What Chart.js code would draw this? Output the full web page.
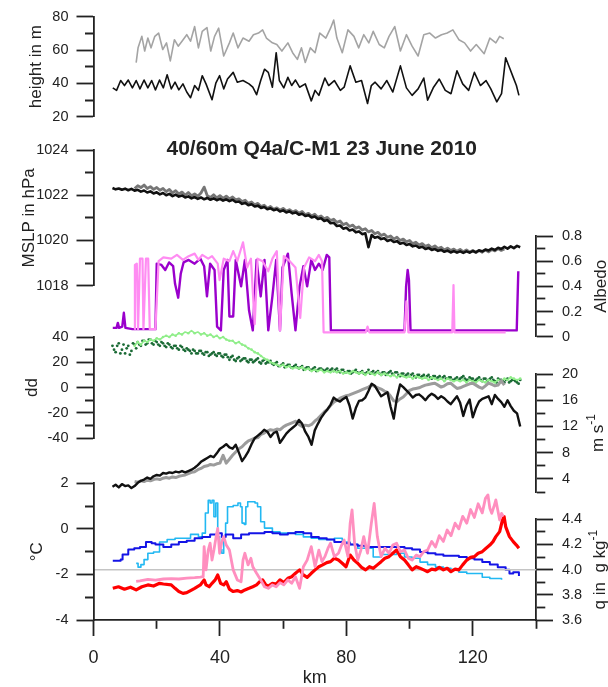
<!DOCTYPE html>
<html>
<head>
<meta charset="utf-8">
<title>40/60m Q4a/C-M1 23 June 2010</title>
<script src="https://cdn.jsdelivr.net/npm/chart.js@4.4.1/dist/chart.umd.min.js"></script>
<style>
  html, body { margin: 0; padding: 0; background: #fff; }
  #wrap { position: relative; width: 608px; height: 687px; }
  #wrap canvas { position: absolute; left: 0; top: 0; }
</style>
</head>
<body>
<div id="wrap">
  <canvas id="cHeight" width="608" height="687"></canvas>
  <canvas id="cMslp" width="608" height="687"></canvas>
  <canvas id="cAlbedo" width="608" height="687"></canvas>
  <canvas id="cDd" width="608" height="687"></canvas>
  <canvas id="cWind" width="608" height="687"></canvas>
  <canvas id="cQ" width="608" height="687"></canvas>
  <canvas id="cTemp" width="608" height="687"></canvas>
</div>
<script>
// ---- data (km along the flight track) ----
const kmA = [6,7,8,9,10,11,12,13,14,15,16,17,18,19,20,21,22,23,24,25,26,27,28,29,30,31,32,33,34,35,
  36,37,38,39,40,41,42,43,44,45,46,47,48,49,50,51,52,53,54,55,56,57,58,59,60,61,62,63,64,65,
  66,67,68,69,70,71,72,73,74,75,76,77,78,79,80,81,82,83,84,85,86,87,88,89,90,91,92,93,94,95,
  96,97,98,99,100,101,102,103,104,105,106,107,108,109,110,111,112,113,114,115,116,117,118,119,120,
  121,122,123,124,125,126,127,128,129,130,131,132,133,134,135];
const kmAh = [6.5,7.5,8.5,9.5,10.5,11.5,12.5,13.5,14.5,15.5,16.5,17.5,18.5,19.5,20.5,21.5,22.5,23.5,24.5,25.5,
  26.5,27.5,28.5,29.5,30.5,31.5,32.5,33.5,34.5,35.5,36.5,37.5,38.5,39.5,40.5,41.5,42.5,43.5,44.5,45.5,
  46.5,47.5,48.5,49.5,50.5,51.5,52.5,53.5,54.5,55.5,56.5,57.5,58.5,59.5,60.5,61.5,62.5,63.5,64.5,65.5,
  66.5,67.5,68.5,69.5,70.5,71.5,72.5,73.5,74.5,75.5,76.5,77.5,78.5,79.5,80.5,81.5,82.5,83.5,84.5,85.5,
  86.5,87.5,88.5,89.5,90.5,91.5,92.5,93.5,94.5,95.5,96.5,97.5,98.5,99.5,100.5,101.5,102.5,103.5,104.5,105.5,
  106.5,107.5,108.5,109.5,110.5,111.5,112.5,113.5,114.5,115.5,116.5,117.5,118.5,119.5,120.5,121.5,122.5,123.5,124.5,125.5,
  126.5,127.5,128.5,129.5,130.5,131.5,132.5,133.5,134.5];
const kmB = kmA.slice(7, 125); // 13 .. 130
const kmC = kmA.slice(7);      // 13 .. 135

// flight height (m)
const h40Km = [6.1,7.3,8.6,9.8,11.0,12.3,13.5,14.7,16.0,17.2,18.4,19.6,20.9,22.1,23.3,24.6,25.8,27.0,28.3,29.5,
  30.7,32.0,33.2,34.4,35.6,37.5,38.7,39.9,41.2,42.4,44.2,45.5,47.3,49.2,50.4,51.6,52.9,54.1,55.3,56.6,
  57.8,58.8,60.2,61.5,62.7,63.9,65.2,67.0,68.9,70.1,71.3,73.2,74.4,76.2,78.1,79.3,81.2,83.0,84.8,86.7,
  87.9,89.1,91.0,92.8,94.7,97.1,99.0,100.8,102.7,104.5,105.7,107.6,109.4,111.3,113.1,115.0,116.8,118.7,120.5,122.4,
  124.2,125.7,127.6,129.1,130.4,131.6,132.8,133.8,134.6];
const h40 = [37.3,35.8,41.7,38.7,42.0,37.3,41.7,36.7,42.0,37.3,41.7,36.1,42.0,37.3,45.2,36.7,40.7,36.1,39.7,34.8,
  31.4,38.7,35.8,44.6,39.7,30.2,40.1,44.6,36.7,42.6,46.6,40.7,41.7,39.7,37.7,33.2,41.7,48.5,46.6,37.7,
  58.4,41.7,37.3,43.6,38.7,42.0,37.7,39.7,29.5,35.8,32.8,43.2,38.7,41.7,35.8,37.7,50.5,40.7,41.7,27.9,
  38.7,40.7,36.7,41.7,34.8,50.5,37.3,32.8,36.7,43.2,29.9,37.7,42.6,35.8,33.8,47.6,39.7,35.8,46.6,38.7,
  41.7,36.7,28.9,33.8,55.4,49.5,43.6,38.7,32.8];
const h60Km = [13.5,14.1,15.3,16.2,17.2,18.2,19.4,20.6,21.9,23.1,24.3,25.6,26.8,28.0,29.5,30.7,32.0,33.2,34.4,35.9,
  37.1,38.3,39.6,41.2,43.0,44.2,45.7,47.3,49.2,50.6,52.2,53.5,54.7,56.6,58.0,59.6,61.5,63.0,64.5,65.8,
  67.0,68.6,70.1,71.6,73.5,75.0,76.0,77.0,78.7,80.5,82.4,83.9,85.5,87.1,88.5,90.4,92.0,93.5,95.3,97.1,
  99.0,100.8,102.7,104.5,106.4,108.2,110.1,111.9,113.7,115.6,117.4,119.3,121.1,123.6,125.4,127.3,128.5,129.8];
const h60 = [52.5,61.3,68.2,59.4,67.2,61.3,68.2,70.2,60.3,64.3,53.5,66.2,62.3,65.3,69.2,65.3,74.1,61.3,71.2,73.5,
  59.4,68.2,73.1,56.4,64.3,70.2,61.3,67.2,65.3,69.2,70.2,72.1,67.2,64.3,63.3,59.4,64.3,58.4,54.4,61.3,
  52.5,61.3,58.4,70.2,67.2,73.1,78.0,67.2,58.4,72.1,68.2,61.3,69.2,64.3,71.2,63.3,61.3,68.2,74.1,59.4,
  69.2,62.3,56.4,69.2,70.2,67.2,69.2,70.2,72.1,66.2,64.3,59.4,63.3,57.8,67.2,64.3,68.2,66.8];

// mean sea level pressure (hPa), black on kmA, grey on kmB
const mslpBlack = [1022.32,1022.26,1022.30,1022.24,1022.29,1022.22,1022.28,1022.20,1022.24,1022.16,
  1022.21,1022.12,1022.17,1022.08,1022.13,1022.04,1022.10,1022.00,1022.06,1021.96,
  1022.03,1021.94,1021.99,1021.90,1021.95,1021.86,1021.92,1021.84,1021.90,1021.82,
  1021.88,1021.80,1021.86,1021.78,1021.84,1021.76,1021.82,1021.74,1021.80,1021.70,
  1021.72,1021.62,1021.66,1021.56,1021.60,1021.50,1021.54,1021.44,1021.48,1021.38,
  1021.42,1021.34,1021.38,1021.28,1021.33,1021.24,1021.29,1021.20,1021.24,1021.14,
  1021.18,1021.08,1021.12,1021.02,1021.06,1020.95,1020.98,1020.86,1020.90,1020.76,
  1020.78,1020.64,1020.66,1020.52,1020.56,1020.44,1020.48,1020.36,1020.40,1020.28,
  1020.32,1019.70,1020.24,1020.12,1020.16,1020.06,1020.10,1019.98,1020.03,1019.93,
  1019.97,1019.86,1019.90,1019.80,1019.84,1019.74,1019.78,1019.68,1019.72,1019.62,
  1019.67,1019.58,1019.62,1019.54,1019.58,1019.50,1019.55,1019.47,1019.53,1019.46,
  1019.52,1019.45,1019.52,1019.46,1019.53,1019.48,1019.56,1019.52,1019.60,1019.56,
  1019.64,1019.58,1019.68,1019.62,1019.72,1019.64,1019.74,1019.66,1019.76,1019.70];
const mslpGrey = [1022.30,1022.42,1022.34,1022.45,1022.30,1022.38,1022.26,1022.34,1022.22,1022.30,
  1022.16,1022.26,1022.10,1022.20,1022.06,1022.14,1022.00,1022.12,1021.98,1022.06,
  1021.96,1022.10,1022.36,1021.98,1021.90,1022.02,1021.88,1021.98,1021.86,1021.96,
  1021.84,1021.92,1021.80,1021.84,1021.72,1021.78,1021.64,1021.70,1021.58,1021.64,
  1021.50,1021.56,1021.42,1021.50,1021.38,1021.44,1021.34,1021.42,1021.30,1021.36,
  1021.26,1021.32,1021.20,1021.28,1021.14,1021.20,1021.08,1021.16,1021.02,1021.08,
  1020.96,1021.02,1020.88,1020.94,1020.80,1020.86,1020.70,1020.76,1020.62,1020.68,
  1020.54,1020.60,1020.46,1020.52,1020.38,1020.44,1020.30,1020.36,1020.22,1020.28,
  1020.14,1020.20,1020.06,1020.14,1020.00,1020.06,1019.94,1020.00,1019.86,1019.92,
  1019.80,1019.86,1019.74,1019.80,1019.68,1019.76,1019.64,1019.70,1019.58,1019.66,
  1019.56,1019.62,1019.52,1019.60,1019.50,1019.58,1019.48,1019.56,1019.46,1019.56,
  1019.48,1019.58,1019.50,1019.60,1019.54,1019.64,1019.56,1019.62];

// albedo
const albPurpleKm = [6.1,7.3,7.7,8.1,9.1,9.6,10.1,12.3,19.6,20.0,21.5,22.7,23.9,25.2,25.8,26.8,27.6,28.5,30.1,32.0,
  33.8,35.0,35.9,36.9,38.3,39.1,40.3,41.2,42.4,43.0,44.2,45.0,46.7,47.9,49.2,50.4,51.6,52.9,54.1,55.3,
  56.6,57.8,59.0,59.8,61.5,62.7,63.9,65.2,66.4,67.6,68.9,70.1,71.3,72.5,73.8,74.6,75.1,98.4,98.9,99.4,
  99.8,100.3,133.4,133.9,134.4];
const albPurple = [0.07,0.07,0.11,0.07,0.08,0.19,0.07,0.06,0.06,0.58,0.57,0.53,0.59,0.56,0.42,0.31,0.50,0.59,0.61,0.58,
  0.62,0.56,0.32,0.58,0.53,0.08,0.05,0.53,0.61,0.16,0.16,0.61,0.40,0.61,0.21,0.05,0.61,0.32,0.61,0.05,
  0.32,0.61,0.05,0.55,0.66,0.34,0.05,0.40,0.56,0.40,0.61,0.53,0.58,0.53,0.65,0.63,0.05,0.05,0.40,0.53,
  0.45,0.05,0.05,0.05,0.52];
const albPinkKm = [12.9,13.1,13.7,14.1,14.7,15.5,15.8,16.6,17.3,17.8,19.6,20.6,22.1,24.6,26.4,28.3,30.1,32.0,33.2,34.4,
  36.3,37.5,39.3,39.9,41.2,43.0,44.2,45.5,47.3,48.6,49.8,51.0,51.9,53.5,55.3,56.6,58.0,59.0,60.2,62.1,
  63.9,65.4,66.6,68.2,70.1,71.3,72.3,72.8,86.1,86.7,87.3,98.4,99.0,99.6,113.5,113.9,114.2,130.4];
const albPink = [0.06,0.57,0.58,0.06,0.62,0.62,0.06,0.62,0.62,0.06,0.06,0.60,0.63,0.62,0.65,0.61,0.64,0.66,0.61,0.65,
  0.62,0.64,0.58,0.45,0.62,0.60,0.68,0.60,0.75,0.55,0.62,0.10,0.62,0.60,0.52,0.62,0.68,0.05,0.64,0.60,
  0.55,0.15,0.55,0.63,0.60,0.65,0.60,0.035,0.035,0.08,0.035,0.035,0.28,0.035,0.035,0.41,0.035,0.035];

// wind direction dd (deg): dark points on kmA and kmAh, light on kmC
const ddDark = [33,28,35,30,27,33,29,34,36,33, 37,35,38,34,36,33,35,32,34,31, 33,30,32,29,30,27,29,27,29,26,
  28,26,28,25,27,24,26,22,25,21, 24,22,23,20,22,21,23,19,22,20, 21,18,20,17,19,17,18,16,18,15,
  17,15,16,14,16,14,15,13,15,14, 13,15,12,14,12,13,12,14,11,13, 11,14,12,11,13,10,12,11,13,10,
  12,9,11,10,9,11,8,10,9,8, 10,7,9,8,7,9,7,8,6,8, 7,9,6,8,7,6,8,5,7,6, 8,5,7,6,4,7,5,6,4,6];
const ddDark2 = [30,33,27,34,31,26,35,31,34,37, 34,38,35,37,34,36,33,35,32,33, 31,33,30,31,29,30,27,29,27,28,
  25,27,26,27,25,26,24,24,22,23, 21,23,21,22,20,22,20,21,19,20, 19,19,17,18,16,18,16,17,16,16,
  14,16,14,15,13,15,14,14,13,15, 14,13,14,12,13,11,13,12,12,11, 12,11,13,12,11,12,10,12,11,12,
  10,11,9,11,10,9,10,8,10,9, 8,9,7,9,8,7,8,6,7,6, 8,7,6,7,5,7,6,7,5,7, 6,4,6,5,6,4,6,5,3];
const ddLight = [33,36,34,37,36,38,37,39,38,40, 41,40,42,41,43,42,44,43,45,43, 44,42,43,41,42,40,41,39,40,38,
  37,37,35,36,34,33,31,30,28,27, 25,23,22,20,19,18,17,18,16,17, 15,16,15,16,14,15,13,14,13,14,
  12,13,12,13,12,13,11,12,11,13, 12,11,12,10,12,11,10,12,10,11, 10,9,10,8,10,9,8,9,7,9,
  8,7,8,6,8,7,6,7,5,7, 6,5,6,5,6,4,6,5,4,6, 5,4,6,5,4,6,5,7,6,8, 7,6,7];

// wind speed (m/s), black on kmA, grey on kmB
const wsBlack = [2.8,3.1,2.7,3.2,2.9,3.0,2.6,2.9,3.4,3.7, 3.9,4.2,4.0,4.4,4.6,4.5,4.9,4.8,5.0,4.9,
  5.1,5.0,5.2,5.0,5.2,5.4,5.7,6.1,6.6,6.9, 7.2,7.5,7.3,7.9,8.6,8.9,9.3,8.8,8.6,9.2,
  8.0,6.7,7.4,8.2,9.3,10.2,10.6,11.0,11.5,11.2, 10.4,11.0,11.2,9.5,10.2,10.9,11.4,11.8,12.2,13.0,
  12.4,11.2,10.4,9.2,11.4,12.4,13.3,14.0,14.6,15.3, 16.4,16.0,15.8,16.2,16.5,15.2,13.2,14.8,15.9,16.0,
  16.4,17.4,18.5,18.2,17.4,16.6,16.9,17.2,15.0,13.2, 16.4,18.4,18.0,17.5,17.0,16.4,16.8,16.9,16.5,16.0,
  16.6,17.0,16.7,16.2,16.6,16.3,15.8,15.4,16.0,16.6, 15.6,13.6,15.2,16.1,13.4,14.8,15.8,16.2,16.4,16.6,
  15.4,16.8,16.2,15.7,15.0,16.0,15.1,14.4,14.0,12.0];
const wsGrey = [3.6,3.5,3.7,3.6,3.8,3.7,3.9,4.0,3.9,4.1, 4.2,4.1,4.3,4.2,4.4,4.5,4.6,4.8,5.0,5.1,
  5.4,5.6,5.9,6.0,6.2,6.1,6.3,6.4,7.6,6.4, 7.0,7.6,8.1,8.6,8.9,9.4,9.8,10.0,10.2,10.3,
  10.8,11.0,11.3,11.5,11.4,11.6,11.5,11.9,12.2,12.4, 12.6,12.8,12.3,12.0,12.2,12.1,12.3,12.8,13.2,13.7,
  14.2,14.6,15.2,15.7,16.0,16.3,16.5,16.7,16.8,17.0, 17.2,17.4,17.6,17.8,18.0,18.3,18.1,17.9,17.7,17.4,
  17.2,16.6,15.9,15.8,16.2,16.5,17.0,17.5,17.7,17.8, 17.9,18.1,18.3,18.4,18.5,18.6,18.3,18.0,18.2,18.5,
  18.6,18.2,17.8,17.9,18.1,18.3,18.5,18.6,18.3,18.0, 17.8,18.2,18.6,18.4,18.2,18.3,19.0,18.3];

// air temperature (deg C)
const tRedKm = [6.1,7.9,9.8,11.7,13.5,15.3,17.2,19.0,20.9,22.1,24.6,25.8,27.0,28.3,29.5,30.7,32.0,33.8,35.0,35.6,
  36.6,37.5,38.5,39.3,40.2,41.2,42.0,43.0,44.2,45.5,46.7,47.9,49.2,50.4,51.6,52.6,53.5,54.5,55.3,56.6,
  57.8,59.0,60.2,61.5,62.7,63.9,65.2,66.4,67.6,68.9,70.1,71.3,72.5,73.8,75.0,76.2,77.5,78.7,79.9,81.2,
  82.4,83.6,84.8,86.1,87.3,88.5,89.8,91.0,92.2,93.5,94.7,95.9,97.1,98.4,99.6,100.8,102.1,103.3,104.5,105.7,
  107.0,108.2,109.4,110.7,111.9,113.1,114.4,115.6,116.8,118.1,119.3,120.5,121.7,123.0,124.2,125.4,126.4,127.3,128.5,129.4,
  129.9,130.4,131.6,132.8,133.8,134.6];
const tRed = [-2.61,-2.54,-2.65,-2.56,-2.68,-2.54,-2.46,-2.51,-2.39,-2.42,-2.46,-2.61,-2.75,-2.83,-2.80,-2.71,-2.61,-2.46,-2.24,-2.46,
  -2.54,-2.39,-2.24,-2.02,-2.39,-2.46,-2.32,-2.65,-2.75,-2.71,-2.77,-2.68,-2.61,-2.54,-2.46,-2.32,-2.24,-2.46,-2.51,-2.39,
  -2.42,-2.24,-2.36,-2.17,-2.10,-1.95,-1.80,-2.02,-2.13,-1.95,-1.80,-1.66,-1.58,-1.48,-1.44,-1.29,-1.37,-1.51,-1.66,-1.15,
  -1.37,-1.51,-1.69,-1.80,-1.66,-1.73,-1.58,-1.44,-1.29,-1.22,-1.07,-0.93,-1.22,-1.37,-1.58,-1.80,-1.66,-1.73,-1.80,-1.88,
  -1.77,-1.80,-1.69,-1.80,-1.73,-1.88,-1.77,-1.80,-1.58,-1.37,-1.25,-1.22,-1.07,-1.00,-0.85,-0.71,-0.56,-0.34,-0.12,0.39,
  0.54,0.10,-0.34,-0.56,-0.71,-0.85];
const tPinkKm = [13.5,14.7,17.2,19.6,22.1,24.6,27.0,29.5,32.0,33.8,34.7,35.0,35.6,36.3,36.9,37.5,38.1,38.8,39.3,39.9,
  40.6,41.2,42.0,43.0,44.2,45.5,46.7,47.3,47.9,48.9,49.8,50.4,51.6,52.9,54.1,55.3,56.6,57.8,59.0,60.2,
  61.5,62.7,63.9,65.2,66.4,67.6,68.9,70.1,71.3,72.3,73.2,74.2,75.0,76.2,77.5,78.5,79.3,80.5,81.2,81.8,
  82.6,83.6,84.6,85.5,86.7,87.9,88.8,89.8,91.0,92.2,93.5,94.7,95.9,97.1,98.4,99.6,100.8,102.1,103.3,104.5,
  105.7,107.0,108.2,109.4,110.7,111.9,113.1,114.4,115.6,116.8,118.1,119.3,120.5,121.7,123.0,124.0,124.8,125.4,126.0,126.7,
  127.3,127.9,128.5,129.1,129.7];
const tPink = [-2.30,-2.28,-2.22,-2.25,-2.20,-2.18,-2.20,-2.16,-2.14,-2.12,-2.10,-0.78,-1.80,-0.93,-0.63,-1.37,-0.93,-0.34,0.02,-1.07,
  -0.56,-0.34,-0.71,-0.93,-1.80,-2.24,-2.32,-1.37,-1.07,-1.58,-1.29,-1.66,-1.95,-2.24,-2.54,-2.61,-2.46,-2.54,-2.36,-2.46,
  -2.24,-2.39,-2.10,-2.61,-1.66,-1.37,-0.78,-1.66,-0.93,-1.44,-1.22,-0.85,-0.63,-1.22,-1.07,-0.71,-0.49,-1.22,0.24,0.83,
  -0.63,-1.37,-0.93,-0.34,-1.07,0.24,1.12,-0.34,-1.22,-0.85,-1.07,-0.71,-0.63,-1.00,-0.93,-1.29,-1.37,-1.15,-1.22,-1.00,
  -0.93,-0.55,-0.80,-0.30,-0.55,-0.05,-0.30,0.25,0.00,0.55,0.25,0.85,0.50,1.10,0.70,1.34,1.49,0.90,0.68,0.98,
  1.27,0.83,0.39,0.68,0.54];

// specific humidity (g/kg)
const qBlueKm = [6.1,8.6,9.2,11.0,12.9,14.7,16.6,18.4,19.6,22.1,24.6,27.0,29.5,32.0,34.4,36.9,39.3,40.6,41.8,44.2,
  46.7,49.2,51.6,54.1,56.6,59.0,61.5,63.9,66.4,68.9,71.3,73.8,76.2,78.7,81.2,83.6,86.1,88.5,91.0,93.5,
  95.9,98.4,100.8,103.3,105.7,108.2,110.7,113.1,115.6,118.1,120.5,123.0,125.4,127.9,130.4,131.6,132.8,134.6];
const qBlue = [4.07,4.08,4.12,4.16,4.17,4.18,4.22,4.21,4.20,4.18,4.20,4.22,4.23,4.25,4.26,4.28,4.29,4.26,4.28,4.25,
  4.28,4.29,4.29,4.30,4.29,4.28,4.29,4.30,4.29,4.26,4.25,4.24,4.22,4.21,4.20,4.19,4.18,4.18,4.18,4.18,
  4.18,4.17,4.16,4.14,4.13,4.12,4.11,4.11,4.10,4.09,4.08,4.06,4.04,4.02,4.00,3.97,3.98,3.95];
const qCyanKm = [13.5,14.1,15.0,16.0,17.2,19.0,20.9,23.3,25.8,28.3,30.7,33.2,34.4,35.4,36.3,36.9,37.5,38.1,38.7,39.3,
  39.9,40.6,41.2,41.8,42.4,44.2,45.7,46.5,47.0,47.7,48.2,48.8,50.2,51.1,51.9,52.9,54.1,56.6,59.0,61.5,
  63.9,66.4,68.9,71.3,73.8,76.2,78.7,81.2,83.6,86.1,88.5,91.0,93.5,95.9,98.4,100.8,103.3,105.7,108.2,110.7,
  113.1,115.6,118.1,120.5,123.0,125.4,127.9,129.1];
const qCyan = [4.05,4.02,4.04,4.08,4.13,4.14,4.22,4.24,4.25,4.25,4.28,4.26,4.29,4.45,4.55,4.53,4.55,4.42,4.53,4.26,
  4.16,4.13,4.26,4.37,4.50,4.51,4.53,4.50,4.37,4.36,4.50,4.54,4.54,4.53,4.50,4.38,4.33,4.30,4.29,4.29,
  4.28,4.26,4.25,4.24,4.24,4.25,4.22,4.20,4.17,4.17,4.10,4.12,4.12,4.13,4.10,4.09,4.06,4.04,4.02,4.01,
  4.00,3.98,3.97,3.97,3.94,3.93,3.93,3.92];
const qRef = 4.0;

// ---- drawing ----
const FONT = "'Liberation Sans', Arial, Helvetica, sans-serif";
const INK = '#222';
Chart.defaults.font.family = FONT;
Chart.defaults.color = INK;

const W = 608, H = 687;
const AREA_LEFT = 93.5, AREA_RIGHT = 536, X_AXIS_Y = 620;

function xy(xs, ys) {
  return xs.map((x, i) => ({ x: x, y: ys[i] }));
}

function line(data, color, width, extra) {
  return Object.assign({
    data: data, borderColor: color, backgroundColor: color, borderWidth: width,
    pointRadius: 0, tension: 0, clip: false, borderJoinStyle: 'round'
  }, extra || {});
}

function dots(data, color, r) {
  return { data: data, showLine: false, pointRadius: r, pointBorderWidth: 0,
    pointBackgroundColor: color, borderColor: color, clip: false };
}

// rotated axis captions on the right side and the panel title
const sideText = {
  id: 'sideText',
  afterDraw(chart, args, opts) {
    const ctx = chart.ctx;
    ctx.save();
    ctx.fillStyle = INK;
    ctx.textBaseline = 'middle';
    (opts.items || []).forEach(function (it) {
      const s = chart.scales[it.scale];
      const mid = (s.top + s.bottom) / 2;
      const big = it.size + 'px ' + FONT;
      const small = Math.round(it.size * 0.72) + 'px ' + FONT;
      let total = 0;
      it.parts.forEach(function (p) {
        ctx.font = p.sup ? small : big;
        total += ctx.measureText(p.t).width;
      });
      ctx.save();
      ctx.translate(it.x, mid);
      ctx.rotate(-Math.PI / 2);
      ctx.textAlign = 'left';
      let u = -total / 2;
      it.parts.forEach(function (p) {
        ctx.font = p.sup ? small : big;
        ctx.fillText(p.t, u, p.sup ? -it.size * 0.38 : 0);
        u += ctx.measureText(p.t).width;
      });
      ctx.restore();
    });
    if (opts.title) {
      const a = chart.chartArea;
      ctx.font = 'bold ' + opts.title.size + 'px ' + FONT;
      ctx.textAlign = 'center';
      ctx.fillText(opts.title.text, (a.left + a.right) / 2 + opts.title.dx, a.top + opts.title.dy);
    }
    ctx.restore();
  }
};
Chart.register(sideText);

function yAxis(side, min, max, step, isMajor, fmt, title) {
  const minorDash = side === 'left' ? [0, 8.5, 8.5, 100] : [8.5, 100];
  return {
    type: 'linear', position: side, min: min, max: max,
    afterFit: function (s) { s.width = side === 'left' ? AREA_LEFT : W - AREA_RIGHT; },
    border: { color: INK, width: 1.8 },
    grid: {
      drawOnChartArea: false, tickLength: 17, tickColor: INK, tickWidth: 1.8,
      tickBorderDash: function (c) { return (c.tick && !isMajor(c.tick.value)) ? minorDash : []; }
    },
    ticks: {
      stepSize: step, autoSkip: false, padding: side === 'left' ? 8 : 9, color: INK,
      font: { size: 14.5 },
      callback: function (v) { return isMajor(v) ? fmt(v) : ''; }
    },
    title: title ? Object.assign({ display: true, color: INK, font: { size: 17, lineHeight: 1 } }, title)
                 : { display: false }
  };
}

function xAxis(show) {
  return {
    type: 'linear', min: 0, max: 140, display: show, position: 'bottom',
    afterFit: function (s) { s.height = show ? H - X_AXIS_Y : 0; },
    border: { color: INK, width: 1.8 },
    grid: {
      drawOnChartArea: false, tickLength: 16, tickColor: INK, tickWidth: 1.8,
      tickBorderDash: function (c) { return (c.tick && c.tick.value % 40 !== 0) ? [8, 100] : []; }
    },
    ticks: {
      stepSize: 20, autoSkip: false, maxRotation: 0, padding: 11, color: INK, font: { size: 18 },
      callback: function (v) { return v % 40 === 0 ? String(v) : ''; }
    },
    title: { display: true, text: 'km', color: INK, font: { size: 18, lineHeight: 1 }, padding: 0 }
  };
}

function makeChart(id, top, bottom, side, y, datasets, text, showX) {
  return new Chart(document.getElementById(id), {
    type: 'line',
    data: { datasets: datasets },
    options: {
      responsive: false, animation: false, devicePixelRatio: 1, events: [],
      layout: {
        padding: {
          top: top, bottom: showX ? 0 : H - bottom,
          left: side === 'left' ? 0 : AREA_LEFT, right: side === 'right' ? 0 : W - AREA_RIGHT
        }
      },
      scales: { x: xAxis(!!showX), y: y },
      plugins: { legend: { display: false }, tooltip: { enabled: false }, sideText: text || {} }
    }
  });
}

const int = v => String(Math.round(v));
const dec = v => v.toFixed(1);

// flight height
makeChart('cHeight', 15, 116.7, 'left',
  yAxis('left', 20, 80, 10, v => Math.round(v) % 20 === 0, int, { text: 'height in m', padding: { top: 27.5 } }),
  [line(xy(h60Km, h60), '#a4a4a4', 1.6), line(xy(h40Km, h40), '#111', 1.6)]);

// pressure
makeChart('cMslp', 150, 285.7, 'left',
  yAxis('left', 1018, 1024, 1, v => Math.round(v) % 2 === 0, int, { text: 'MSLP in hPa', padding: { top: 20.5 } }),
  [line(xy(kmA, mslpBlack), '#111', 2.6), line(xy(kmB, mslpGrey), '#767676', 2.8)],
  { title: { text: '40/60m Q4a/C-M1 23 June 2010', size: 21, dx: 7, dy: -1 } });

// albedo
makeChart('cAlbedo', 236, 336.7, 'right',
  yAxis('right', 0, 0.8, 0.1, v => Math.round(v * 10) % 2 === 0, v => (Math.abs(v) < 1e-9 ? '0' : dec(v))),
  [line(xy(albPinkKm, albPink), '#ff8cf2', 2.2), line(xy(albPurpleKm, albPurple), '#9a00cc', 2.4)],
  { items: [{ scale: 'y', x: 601, size: 17, parts: [{ t: 'Albedo' }] }] });

// wind direction
makeChart('cDd', 337, 438, 'left',
  yAxis('left', -40, 40, 10, v => Math.round(v) % 20 === 0, int, { text: 'dd', padding: { top: 23.5 } }),
  [line(xy(kmC, ddLight), '#90ee8a', 1.6, { pointRadius: 1.3, pointBorderWidth: 0 }),
   dots(xy(kmA, ddDark), '#1b6b36', 1.4),
   dots(xy(kmAh, ddDark2), '#1b6b36', 1.4)]);

// wind speed
makeChart('cWind', 374, 492, 'right',
  yAxis('right', 2, 20, 2, v => Math.round(v) % 4 === 0, int),
  [line(xy(kmA, wsBlack), '#111', 2.4), line(xy(kmB, wsGrey), '#9c9c9c', 3)],
  { items: [{ scale: 'y', x: 598, size: 17, parts: [{ t: 'm s' }, { t: '-1', sup: true }] }] });

// humidity
makeChart('cQ', 519.3, X_AXIS_Y, 'right',
  yAxis('right', 3.6, 4.4, 0.1, v => Math.round(v * 10) % 2 === 0, dec),
  [line([{ x: 0, y: qRef }, { x: 140, y: qRef }], '#c4c4c4', 1.5),
   line(xy(qBlueKm, qBlue), '#1414e6', 2, { stepped: true }),
   line(xy(qCyanKm, qCyan), '#22b8f2', 1.6, { stepped: true })],
  { items: [{ scale: 'y', x: 600, size: 17, parts: [{ t: 'q in  g kg' }, { t: '-1', sup: true }] }] });

// temperature, carries the km axis
makeChart('cTemp', 483.3, X_AXIS_Y, 'left',
  yAxis('left', -4, 2, 1, v => Math.round(v) % 2 === 0, int, { text: '\u00B0C', padding: { top: 28.5 } }),
  [line(xy(tPinkKm, tPink), '#ff8fbf', 2.8), line(xy(tRedKm, tRed), '#ff0000', 3.2)],
  null, true);
</script>
</body>
</html>
